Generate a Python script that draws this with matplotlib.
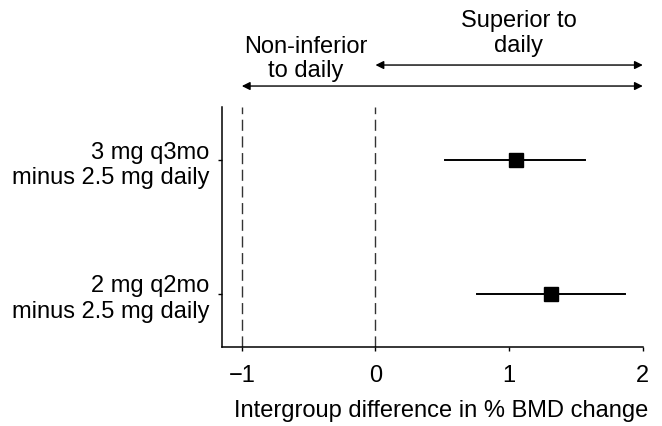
import matplotlib.pyplot as plt
import matplotlib.transforms as mtransforms

plt.rcParams['font.family'] = ['Liberation Sans', 'DejaVu Sans']

# data
groups = ['3 mg q3mo\nminus 2.5 mg daily', '2 mg q2mo\nminus 2.5 mg daily']
diff = [1.05, 1.31]
ci_low = [0.52, 0.76]
ci_high = [1.57, 1.87]
margins = [-1, 0]
xticks = [-1, 0, 1, 2]

fig = plt.figure(figsize=(6.62, 4.27), dpi=100)
ax = fig.add_axes([0.335, 0.185, 0.636, 0.562])

ypos = [1, 2]
for y, d, lo, hi in zip(ypos, diff, ci_low, ci_high):
    ax.plot([lo, hi], [y, y], color='black', lw=1.4, zorder=2)
    ax.plot(d, y, marker='s', ms=10, color='black', zorder=3)

for m in margins:
    ax.axvline(m, color='#333333', lw=1, ls=(0, (8, 4)), zorder=1)

ax.set_xlim(-1.15, 2.0)
ax.set_ylim(2.4, 0.6)
ax.set_xticks(xticks)
ax.set_xticklabels(['\u22121', '0', '1', '2'])
ax.set_yticks(ypos)
ax.set_yticklabels(groups, ha='right', linespacing=1.2)
ax.tick_params(labelsize=17, length=3, width=1, direction='out', pad=6)
ax.tick_params(axis='x', pad=9)
for side in ['top', 'right']:
    ax.spines[side].set_visible(False)
for side in ['left', 'bottom']:
    ax.spines[side].set_linewidth(1.1)

ax.set_xlabel('Intergroup difference in % BMD change', fontsize=17)
ax.xaxis.set_label_coords(0.52, -0.215)

# arrows above the axes
trans = mtransforms.blended_transform_factory(ax.transData, ax.transAxes)
arrow = dict(arrowstyle='<|-|>', color='black', lw=1, mutation_scale=12, shrinkA=0, shrinkB=0)
ax.annotate('', xy=(2.0, 1.175), xytext=(0, 1.175), xycoords=trans, textcoords=trans,
            arrowprops=arrow, annotation_clip=False)
ax.annotate('', xy=(2.0, 1.0875), xytext=(-1, 1.0875), xycoords=trans, textcoords=trans,
            arrowprops=arrow, annotation_clip=False)
ax.text(1.07, 1.31, 'Superior to\ndaily', transform=trans, ha='center', va='center',
        fontsize=17, linespacing=1.15)
ax.text(-0.52, 1.205, 'Non-inferior\nto daily', transform=trans, ha='center', va='center',
        fontsize=17, linespacing=1.15)

fig.savefig('out.png', dpi=100)
